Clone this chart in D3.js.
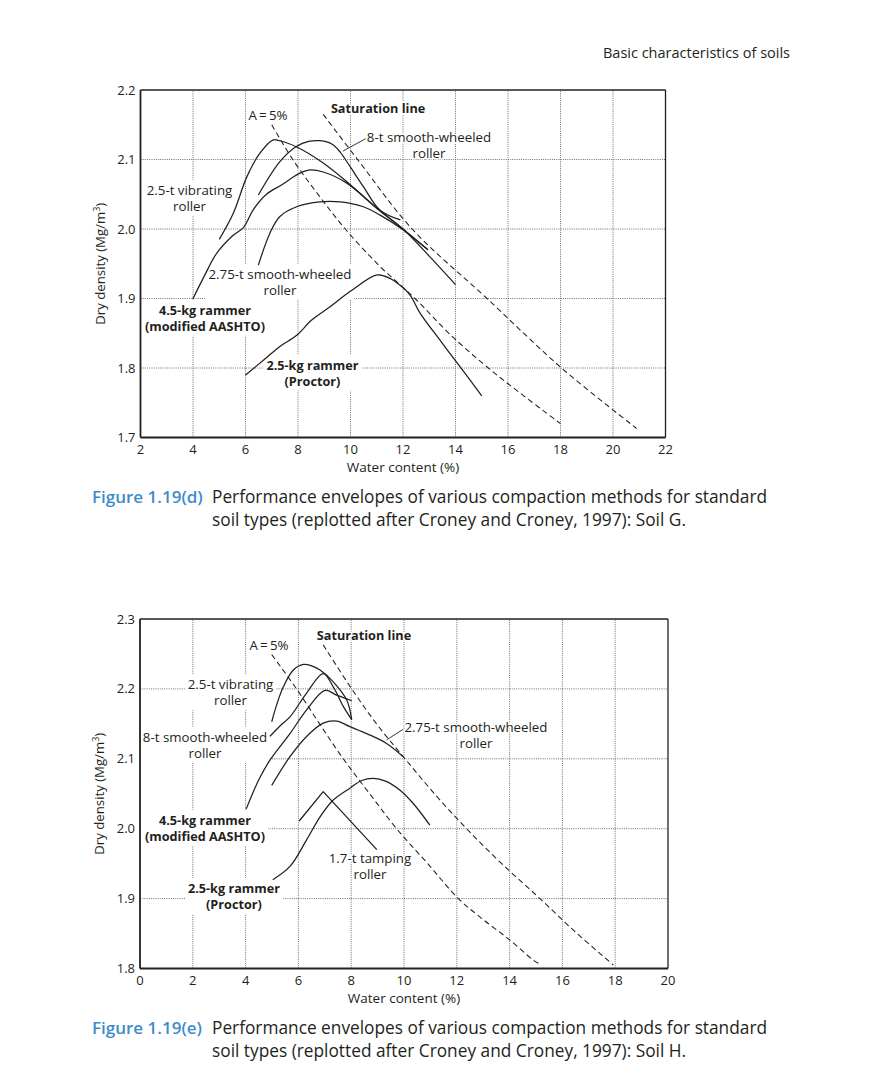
<!DOCTYPE html>
<html><head><meta charset="utf-8">
<script src="https://cdn.jsdelivr.net/npm/d3@7"></script>
<style>
body{margin:0;background:#fff;}
svg{display:block;}
text{font-family:"Open Sans",sans-serif;fill:#231f20;}
</style></head>
<body><svg id="c" width="880" height="1066"></svg>
<script>
// ---------- DATA : Soil G (top) ----------
const gXTicks = [2,4,6,8,10,12,14,16,18,20,22];
const gYTicks = [1.7,1.8,1.9,2.0,2.1,2.2];
const gVibrating = [[5.0,1.985],[5.54,2.023],[6.05,2.075],[6.55,2.109],[7.04,2.128],[7.31,2.127],[7.95,2.118],[8.96,2.095],[9.86,2.068],[11.0,2.03],[12.0,2.0],[13.0,1.961],[14.0,1.92]];
const g8t = [[6.49,2.049],[7.31,2.097],[7.95,2.119],[8.4,2.126],[8.84,2.127],[9.3,2.122],[9.6,2.111],[9.98,2.09],[10.49,2.061],[11.13,2.027],[11.9,2.013]];
const g275 = [[6.49,1.948],[6.93,1.994],[7.31,2.018],[7.95,2.032],[8.84,2.039],[9.6,2.039],[10.49,2.032],[11.13,2.02],[12.0,1.999],[12.95,1.97]];
const gRammer45 = [[3.99,1.899],[4.4,1.93],[4.9,1.965],[5.5,1.99],[5.92,2.002],[6.3,2.028],[6.8,2.05],[7.4,2.064],[8.0,2.079],[8.46,2.085],[8.96,2.082],[9.86,2.066],[11.0,2.03],[12.0,2.0],[12.95,1.97]];
const gProctor = [[6.0,1.79],[6.68,1.811],[7.31,1.831],[7.95,1.847],[8.52,1.869],[9.22,1.888],[9.98,1.91],[11.02,1.934],[11.5,1.929],[11.89,1.919],[12.27,1.905],[12.65,1.879],[13.41,1.84],[14.17,1.802],[15.0,1.76]];
const gAir5 = [[7.0,2.15],[7.8,2.1],[8.8,2.048],[9.8,2.0],[11.1,1.947],[12.46,1.9],[13.8,1.848],[15.25,1.8],[16.6,1.76],[18.0,1.72]];
const gSat = [[8.96,2.165],[10.27,2.1],[12.35,2.0],[15.2,1.9],[18.04,1.8],[20.9,1.713]];

// ---------- DATA : Soil H (bottom) ----------
const hXTicks = [0,2,4,6,8,10,12,14,16,18,20];
const hYTicks = [1.8,1.9,2.0,2.1,2.2,2.3];
const hVibrating = [[4.99,2.153],[5.2,2.18],[5.43,2.203],[5.81,2.227],[6.19,2.235],[6.5,2.233],[6.82,2.227],[7.32,2.21],[7.83,2.184],[8.02,2.156]];
const h8t = [[4.92,2.132],[5.3,2.147],[5.68,2.16],[6.31,2.194],[6.94,2.222],[7.32,2.203],[7.7,2.175],[8.02,2.156]];
const hRammer45 = [[4.02,2.028],[4.5,2.07],[4.92,2.098],[5.68,2.136],[6.31,2.17],[7.01,2.198],[7.45,2.191],[8.02,2.183]];
const h275 = [[4.99,2.062],[5.68,2.103],[6.31,2.132],[6.94,2.151],[7.45,2.154],[7.95,2.146],[8.59,2.136],[9.34,2.122],[9.97,2.103]];
const hTamping = [[6.03,2.011],[6.94,2.053],[8.97,1.97]];
const hProctor = [[5.03,1.927],[5.68,1.946],[6.31,1.984],[6.82,2.017],[7.32,2.041],[7.95,2.058],[8.4,2.069],[8.84,2.072],[9.3,2.068],[9.85,2.055],[10.35,2.036],[10.98,2.005]];
const hAir5 = [[4.99,2.249],[5.93,2.2],[6.8,2.15],[7.7,2.1],[8.7,2.05],[9.72,2.0],[10.9,1.95],[12.06,1.9],[13.0,1.87],[14.0,1.841],[14.9,1.812],[15.21,1.805]];
const hSat = [[6.94,2.263],[8.02,2.2],[9.0,2.148],[10.04,2.1],[11.2,2.048],[12.37,2.0],[13.7,1.95],[15.15,1.9],[16.5,1.852],[17.93,1.805]];

// ---------- TEXT ----------
const headerText = "Basic characteristics of soils";
const yTitle = "Dry density (Mg/m";
const xTitle = "Water content (%)";
const captionG = ["Figure 1.19(d)", "Performance envelopes of various compaction methods for standard", "soil types (replotted after Croney and Croney, 1997): Soil G."];
const captionH = ["Figure 1.19(e)", "Performance envelopes of various compaction methods for standard", "soil types (replotted after Croney and Croney, 1997): Soil H."];

const svg = d3.select("#c");
const INK = "#231f20";

function drawPanel(p){
  const x = d3.scaleLinear().domain(p.xd).range(p.xr);
  const y = d3.scaleLinear().domain(p.yd).range(p.yr);
  const root = svg.append("g");
  const gridL = root.append("g"), knockL = root.append("g"), curveL = root.append("g"), textL = root.append("g"), frameL = root.append("g");
  p.xt.slice(1,-1).forEach(t=>{
    gridL.append("line").attr("x1",x(t)).attr("x2",x(t)).attr("y1",y.range()[0]).attr("y2",y.range()[1])
      .attr("stroke","#5d5d5d").attr("stroke-width",0.9).attr("stroke-dasharray","1,1.2");
  });
  p.yt.slice(1,-1).forEach(t=>{
    gridL.append("line").attr("y1",y(t)).attr("y2",y(t)).attr("x1",x.range()[0]).attr("x2",x.range()[1])
      .attr("stroke","#5d5d5d").attr("stroke-width",0.9).attr("stroke-dasharray","1,1.2");
  });
  const [x0,x1] = x.range(), [y0,y1] = y.range();
  frameL.append("line").attr("x1",x0).attr("x2",x1).attr("y1",y1).attr("y2",y1).attr("stroke",INK).attr("stroke-width",1.3);
  frameL.append("line").attr("x1",x1).attr("x2",x1).attr("y1",y1).attr("y2",y0).attr("stroke",INK).attr("stroke-width",1.3);
  frameL.append("line").attr("x1",x0).attr("x2",x1).attr("y1",y0).attr("y2",y0).attr("stroke",INK).attr("stroke-width",1.8);
  frameL.append("line").attr("x1",x0).attr("x2",x0).attr("y1",y1).attr("y2",y0).attr("stroke",INK).attr("stroke-width",1.8);
  p.yt.forEach(t=>{
    textL.append("text").attr("x",x0-5).attr("y",y(t)).attr("dy","0.35em").attr("text-anchor","end")
      .attr("font-size",13).text(d3.format(".1f")(t));
  });
  p.xt.forEach(t=>{
    textL.append("text").attr("x",x(t)).attr("y",y0+16).attr("text-anchor","middle")
      .attr("font-size",13).text(t);
  });
  textL.append("text").attr("x",(x0+x1)/2).attr("y",y0+34).attr("text-anchor","middle").attr("font-size",13.5).text(xTitle);
  const yt = textL.append("text").attr("transform",`translate(${x0-36},${(y0+y1)/2}) rotate(-90)`)
    .attr("text-anchor","middle").attr("font-size",13.2);
  yt.append("tspan").text(yTitle);
  yt.append("tspan").attr("font-size",9).attr("dy",-5).text("3");
  yt.append("tspan").attr("dy",5).text(")");
  p.dashed.forEach(d=>{
    curveL.append("path").attr("d",d3.line().x(v=>x(v[0])).y(v=>y(v[1])).curve(d3.curveCatmullRom.alpha(0.5))(d))
      .attr("fill","none").attr("stroke",INK).attr("stroke-width",1.05).attr("stroke-dasharray","5.5,3.5");
  });
  p.solid.forEach(s=>{
    const c = s.linear ? d3.curveLinear : d3.curveCatmullRom.alpha(0.5);
    curveL.append("path").attr("d",d3.line().x(v=>x(v[0])).y(v=>y(v[1])).curve(c)(s.data))
      .attr("fill","none").attr("stroke",INK).attr("stroke-width",1.25).attr("stroke-linejoin","round");
  });
  p.leaders.forEach(l=>{
    curveL.append("line").attr("x1",x(l[0][0])).attr("y1",y(l[0][1])).attr("x2",x(l[1][0])).attr("y2",y(l[1][1]))
      .attr("stroke",INK).attr("stroke-width",0.9);
  });
  p.labels.forEach(L=>{
    const t = textL.append("text").attr("text-anchor","middle").attr("font-size",L.bold?12.7:13.3)
      .attr("font-weight",L.bold?700:400);
    L.lines.forEach((ln,i)=>{
      t.append("tspan").attr("x",x(L.at[0])).attr("y",y(L.at[1])+i*16).attr("dy","0.35em").text(ln);
    });
    if(L.knock){
      const b = t.node().getBBox();
      knockL.append("rect").attr("x",b.x-3).attr("y",b.y-1).attr("width",b.width+6).attr("height",b.height+2).attr("fill","#fff");
    } else {
      t.attr("stroke","#fff").attr("stroke-width",3).attr("paint-order","stroke").attr("stroke-linejoin","round");
    }
  });
}

drawPanel({
  xd:[2,22], xr:[140.5,665.5], yd:[1.7,2.2], yr:[437.5,90], xt:gXTicks, yt:gYTicks,
  dashed:[gAir5,gSat],
  solid:[{data:gVibrating},{data:g8t},{data:g275},{data:gRammer45},{data:gProctor}],
  leaders:[[[9.71,2.112],[10.58,2.13]]],
  labels:[
    {lines:["A\u2009=\u20095%"], at:[6.857,2.164]},
    {lines:["Saturation line"], at:[11.05,2.173], bold:true},
    {lines:["8-t smooth-wheeled","roller"], at:[12.99,2.132]},
    {lines:["2.5-t vibrating","roller"], at:[3.867,2.056], knock:true},
    {lines:["2.75-t smooth-wheeled","roller"], at:[7.314,1.935], knock:true},
    {lines:["4.5-kg rammer","(modified AASHTO)"], at:[4.457,1.883], bold:true, knock:true},
    {lines:["2.5-kg rammer","(Proctor)"], at:[8.552,1.804], bold:true, knock:true}
  ]
});

drawPanel({
  xd:[0,20], xr:[140,668], yd:[1.8,2.3], yr:[968.5,619], xt:hXTicks, yt:hYTicks,
  dashed:[hAir5,hSat],
  solid:[{data:hVibrating},{data:h8t},{data:hRammer45},{data:h275},{data:hTamping, linear:true},{data:hProctor}],
  leaders:[[[9.34,2.127],[9.96,2.142]]],
  labels:[
    {lines:["A\u2009=\u20095%"], at:[4.886,2.263]},
    {lines:["Saturation line"], at:[8.485,2.276], bold:true},
    {lines:["2.5-t vibrating","roller"], at:[3.428,2.206], knock:true},
    {lines:["8-t smooth-wheeled","roller"], at:[2.462,2.131], knock:true},
    {lines:["2.75-t smooth-wheeled","roller"], at:[12.727,2.145]},
    {lines:["4.5-kg rammer","(modified AASHTO)"], at:[2.462,2.012], bold:true, knock:true},
    {lines:["1.7-t tamping","roller"], at:[8.712,1.958]},
    {lines:["2.5-kg rammer","(Proctor)"], at:[3.56,1.914], bold:true, knock:true}
  ]
});

svg.append("text").attr("x",790).attr("y",58).attr("text-anchor","end").attr("font-size",14.5).text(headerText);

function caption(c, yb){
  svg.append("text").attr("x",92).attr("y",yb).attr("font-size",17).attr("font-weight",600)
     .style("fill","#3d8ccc").text(c[0]);
  svg.append("text").attr("x",212).attr("y",yb).attr("font-size",17.3).text(c[1]);
  svg.append("text").attr("x",212).attr("y",yb+23).attr("font-size",17.3).text(c[2]);
}
caption(captionG, 503);
caption(captionH, 1034);
</script></body></html>
